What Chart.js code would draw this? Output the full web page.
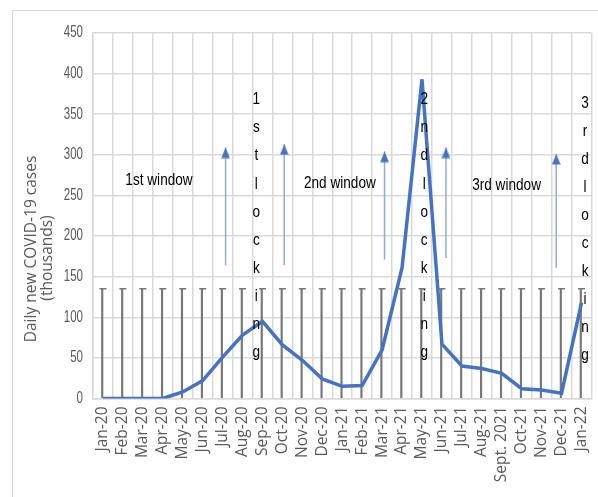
<!DOCTYPE html>
<html>
<head>
<meta charset="utf-8">
<title>Daily new COVID-19 cases</title>
<script src="https://cdn.jsdelivr.net/npm/chart.js@4.4.1/dist/chart.umd.min.js"></script>
<style>
  html, body { margin: 0; padding: 0; background: #fff; }
  #wrap { position: relative; width: 598px; height: 497px; overflow: hidden; }
  #frame { position: absolute; left: 12px; top: 10px; width: 640px; height: 540px; border: 1px solid #d9d9d9; }
  #chart { position: absolute; left: 0; top: 0; }
</style>
</head>
<body>
<div id="wrap">
  <div id="frame"></div>
  <canvas id="chart" width="598" height="497"></canvas>
</div>
<script>
// months on the x axis
const months = ['Jan-20', 'Feb-20', 'Mar-20', 'Apr-20', 'May-20', 'Jun-20', 'Jul-20', 'Aug-20',
  'Sep-20', 'Oct-20', 'Nov-20', 'Dec-20', 'Jan-21', 'Feb-21', 'Mar-21', 'Apr-21', 'May-21',
  'Jun-21', 'Jul-21', 'Aug-21', 'Sept. 2021', 'Oct-21', 'Nov-21', 'Dec-21', 'Jan-22'];

// daily new cases (thousands)
const dailyCases = [0, 0, 0, 0, 8, 22, 51, 78, 95, 66, 47, 24, 15, 16, 60, 161, 393, 67, 40, 37, 31, 12, 10.5, 6.5, 118];

// the black drop lines with caps
const dropTop = [135, 135, 135, 135, 135, 135, 135, 135, 135, 135, 135, 135, 135,
  135, 135, 135, 135, 135, 135, 135, 135, 135, 135, 135, 135];

const yTicks = [0, 50, 100, 150, 200, 250, 300, 350, 400, 450];

// blue arrows (x is a fractional month index)
const arrowX = [6.15, 9.09, 14.12, 17.2, 22.73];
const arrowBottom = [164, 164, 171, 173, 161];
const arrowTip = [309, 313, 304, 309, 301];

// window labels
const windowText = ['1st window', '2nd window', '3rd window'];
const windowX = [2.81, 11.88, 20.24];
const windowY = [269, 265, 263];

// vertical lockdown labels
const lockText = ['1st locking', '2nd locking', '3rd locking'];
const lockX = [7.69, 16.11, 24.18];
const lockY = [368, 368, 364];

const yTitle = ['Daily new COVID-19 cases', '(thousands)'];

// Calibri-like look: Liberation Sans squeezed sideways
const narrowFont = '"Liberation Sans", Arial, sans-serif';
function narrowText(ctx, text, x, y, squeeze) {
  ctx.save();
  ctx.translate(x, y);
  ctx.scale(squeeze, 1);
  ctx.fillText(text, 0, 0);
  ctx.restore();
}

// arrow head used as point style, tip sits at the centre of the image
function makeArrowHead() {
  const c = document.createElement('canvas');
  c.width = 9;
  c.height = 22;
  const g = c.getContext('2d');
  g.fillStyle = '#4472C4';
  g.beginPath();
  g.moveTo(4.5, 11);
  g.lineTo(8.8, 21.5);
  g.lineTo(0.2, 21.5);
  g.closePath();
  g.fill();
  return c;
}
const arrowHead = makeArrowHead();

const arrowSets = arrowX.map((x, i) => ({
  type: 'line',
  xAxisID: 'xa',
  data: [{ x: x, y: arrowBottom[i] }, { x: x, y: arrowTip[i] }],
  borderColor: '#8FAADC',
  borderWidth: 1.5,
  pointRadius: [0, 5],
  pointStyle: arrowHead,
  order: 1
}));

const textPlugin = {
  id: 'textPlugin',
  afterDatasetsDraw(chart) {
    const ctx = chart.ctx;
    const xa = chart.scales.xa;
    const y = chart.scales.y;
    ctx.save();
    ctx.textAlign = 'center';
    ctx.textBaseline = 'middle';

    // y tick labels
    ctx.fillStyle = '#595959';
    ctx.font = '16px ' + narrowFont;
    ctx.textAlign = 'right';
    yTicks.forEach(v => narrowText(ctx, String(v), chart.chartArea.left - 10, y.getPixelForValue(v), 0.72));

    ctx.fillStyle = '#000';
    ctx.textAlign = 'center';
    ctx.font = '17px ' + narrowFont;
    windowText.forEach((t, i) => {
      narrowText(ctx, t, xa.getPixelForValue(windowX[i]), y.getPixelForValue(windowY[i]), 0.8);
    });
    lockText.forEach((t, i) => {
      const px = xa.getPixelForValue(lockX[i]);
      const py = y.getPixelForValue(lockY[i]);
      t.replace(/ /g, '').split('').forEach((ch, j) => {
        narrowText(ctx, ch, px, py + j * 28.1, 0.8);
      });
    });
    ctx.restore();
  },
  afterDraw(chart) {
    const ctx = chart.ctx;
    ctx.save();
    ctx.fillStyle = '#595959';
    ctx.font = '15.5px "Open Sans", sans-serif';
    ctx.textAlign = 'center';
    ctx.textBaseline = 'middle';
    ctx.translate(32, 249);
    ctx.rotate(-Math.PI / 2);
    ctx.fillText(yTitle[0], 0, 0);
    ctx.fillText(yTitle[1], -9, 16);
    ctx.restore();
  }
};

const ctx = document.getElementById('chart').getContext('2d');

new Chart(ctx, {
  data: {
    labels: months,
    datasets: [
      {
        type: 'line',
        label: 'Daily new COVID-19 cases',
        data: dailyCases,
        borderColor: '#4472C4',
        borderWidth: 3.5,
        pointRadius: 0,
        tension: 0,
        order: 0
      },
      {
        type: 'bar',
        data: dropTop,
        backgroundColor: '#777777',
        barThickness: 1.5,
        order: 3
      },
      {
        type: 'line',
        data: dropTop,
        showLine: false,
        pointStyle: 'line',
        pointRadius: 3.5,
        borderColor: '#777777',
        borderWidth: 1.5,
        order: 2
      },
      ...arrowSets
    ]
  },
  options: {
    responsive: false,
    animation: false,
    layout: { padding: { top: 33, right: 3, left: 0, bottom: 0 } },
    plugins: {
      legend: { display: false },
      tooltip: { enabled: false }
    },
    scales: {
      x: {
        type: 'category',
        offset: true,
        afterFit: (scale) => {
          scale.height = 98.5;
          scale.paddingLeft = 0;
          scale.paddingRight = 0;
        },
        grid: { offset: true, color: '#D9D9D9', lineWidth: 1.5, drawTicks: false },
        border: { color: '#D9D9D9', width: 1.5 },
        ticks: {
          minRotation: 90,
          maxRotation: 90,
          autoSkip: false,
          padding: 8,
          color: '#595959',
          font: { family: '"Open Sans", sans-serif', size: 15.5 }
        }
      },
      xa: {
        type: 'linear',
        display: false,
        min: -0.5,
        max: 24.5
      },
      y: {
        min: 0,
        max: 450,
        afterFit: (scale) => { scale.width = 93; },
        afterBuildTicks: (scale) => { scale.ticks = yTicks.map(v => ({ value: v })); },
        grid: { color: '#D9D9D9', lineWidth: 1.5, drawTicks: false },
        border: { color: '#D9D9D9', width: 1.5 },
        ticks: { display: false }
      }
    }
  },
  plugins: [textPlugin]
});
</script>
</body>
</html>
